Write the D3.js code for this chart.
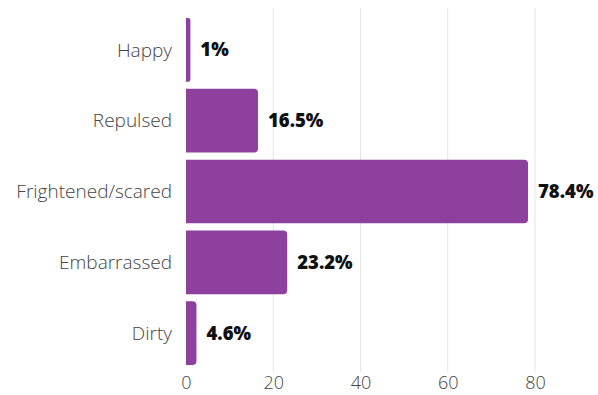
<!DOCTYPE html>
<html><head><meta charset="utf-8">
<script src="https://cdn.jsdelivr.net/npm/d3@7"></script>
<style>body{margin:0;background:#fff}svg{display:block}</style>
</head><body>
<svg id="c" width="598" height="395"></svg>
<script>
const categories = ["Happy","Repulsed","Frightened/scared","Embarrassed","Dirty"];
const values = [1, 16.5, 78.4, 23.2, 2.4];
const valueLabels = ["1%","16.5%","78.4%","23.2%","4.6%"];
const ticks = [0,20,40,60,80];

const svg = d3.select("#c");
const x = d3.scaleLinear().domain([0,80]).range([186,535]);
const y = d3.scaleBand().domain(categories).range([14.5,368.5]).paddingInner(0.1).paddingOuter(0.05);

svg.append("g").selectAll("line").data(ticks.slice(1)).join("line")
  .attr("x1",d=>x(d)).attr("x2",d=>x(d)).attr("y1",8).attr("y2",372)
  .attr("stroke","#e5e5e5").attr("stroke-width",1);

const r = 4;
function barPath(d,i){
  const x0 = x(0), x1 = x(values[i]), y0 = y(categories[i]), h = y.bandwidth();
  const rr = Math.min(r, (x1-x0)/2);
  return `M${x0},${y0}H${x1-rr}Q${x1},${y0} ${x1},${y0+rr}V${y0+h-rr}Q${x1},${y0+h} ${x1-rr},${y0+h}H${x0}Z`;
}
svg.append("g").selectAll("path").data(values).join("path")
  .attr("d",barPath).attr("fill","#8e409e");

svg.append("g").selectAll("text").data(categories).join("text")
  .attr("x",172).attr("y",d=>y(d)+y.bandwidth()/2).attr("dy","0.35em")
  .attr("text-anchor","end").attr("font-family","Open Sans").attr("font-weight",300).attr("font-size",19)
  .attr("fill","#444").text(d=>d);

svg.append("g").selectAll("text").data(values).join("text")
  .attr("x",(d,i)=>x(d)+10).attr("y",(d,i)=>y(categories[i])+y.bandwidth()/2).attr("dy","0.35em")
  .attr("font-family","Open Sans").attr("font-weight",800).attr("font-size",18.5)
  .attr("fill","#111").text((d,i)=>valueLabels[i]);

const ax = d3.axisBottom(x).tickValues(ticks).tickSize(0).tickPadding(0);
const g = svg.append("g").attr("transform","translate(0,380)").call(ax);
g.select(".domain").remove();
g.selectAll("text").attr("font-family","Open Sans").attr("font-weight",300).attr("font-size",18).attr("fill","#444").attr("dy","0.5em");
</script>
</body></html>
